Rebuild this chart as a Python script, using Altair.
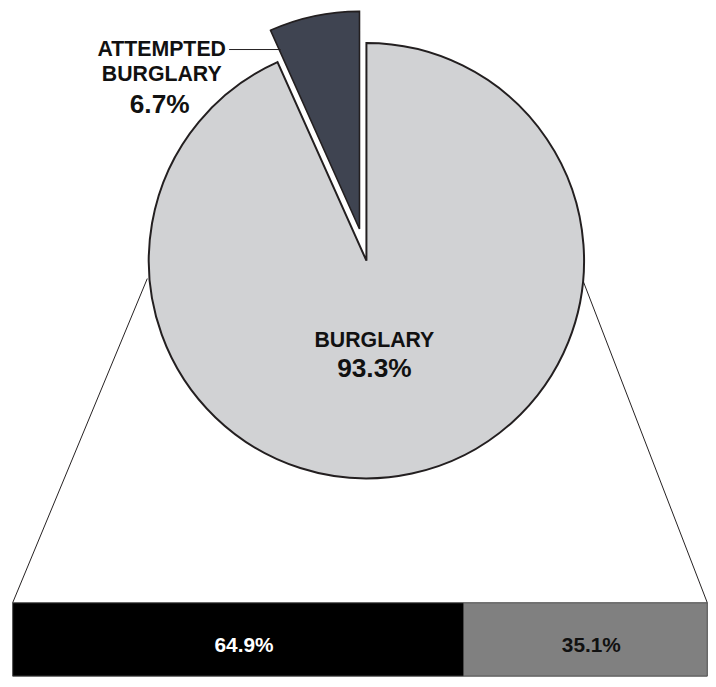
import altair as alt
import pandas as pd

# ---- data ----
pie_categories = ["BURGLARY", "ATTEMPTED BURGLARY"]
pie_shares = [93.3, 6.7]
pie_colors = ["#d1d2d4", "#3f4451"]

bar_segments = ["Segment A", "Segment B"]
bar_shares = [64.9, 35.1]
bar_colors = ["#000000", "#808080"]
bar_text_colors = ["#ffffff", "#111111"]

FONT = "Liberation Sans"

pie_df = pd.DataFrame({"category": pie_categories, "share": pie_shares,
                       "order": list(range(len(pie_categories)))})
bar_df = pd.DataFrame({"segment": bar_segments, "share": bar_shares,
                       "order": list(range(len(bar_segments)))})

# ---- layout (plot-area pixels) ----
CX, CY, R = 361.5, 252, 219.5
EXPLODE_DX, EXPLODE_DY = -7, -32
BAR_TOP, BAR_BOTTOM = 597, 671
BAR_LEFT, BAR_RIGHT = 4.7, 705.3

pie_base = alt.Chart(pie_df).encode(
    theta=alt.Theta("share:Q", stack=True),
    order=alt.Order("order:Q"),
    color=alt.Color("category:N", scale=alt.Scale(domain=pie_categories, range=pie_colors), legend=None),
)

pie_main = pie_base.mark_arc(radius=R, stroke="#231f20", strokeWidth=2).encode(
    x=alt.value(CX), y=alt.value(CY),
    opacity=alt.condition("datum.order == 0", alt.value(1), alt.value(0)),
)
pie_explode = pie_base.mark_arc(radius=R, stroke="#231f20", strokeWidth=1.6).encode(
    x=alt.value(CX + EXPLODE_DX), y=alt.value(CY + EXPLODE_DY),
    opacity=alt.condition("datum.order == 1", alt.value(1), alt.value(0)),
)

main_name = alt.Chart(pie_df).transform_filter("datum.order == 0").mark_text(
    font=FONT, fontSize=21.5, fontWeight="bold", color="#111111", baseline="alphabetic", align="center"
).encode(x=alt.value(369.5), y=alt.value(339), text="category:N")
main_pct = alt.Chart(pie_df).transform_filter("datum.order == 0").transform_calculate(
    label="format(datum.share, '.1f') + '%'"
).mark_text(
    font=FONT, fontSize=26.5, fontWeight="bold", color="#111111", baseline="alphabetic", align="center"
).encode(x=alt.value(369.5), y=alt.value(369), text="label:N")

att_name = alt.Chart(pie_df).transform_filter("datum.order == 1").mark_text(
    font=FONT, fontSize=21.5, fontWeight="bold", color="#111111", baseline="alphabetic", align="center",
    lineBreak=" ", lineHeight=25
).encode(x=alt.value(155), y=alt.value(46), text="category:N")
att_pct = alt.Chart(pie_df).transform_filter("datum.order == 1").transform_calculate(
    label="format(datum.share, '.1f') + '%'"
).mark_text(
    font=FONT, fontSize=26.5, fontWeight="bold", color="#111111", baseline="alphabetic", align="center"
).encode(x=alt.value(153), y=alt.value(103), text="label:N")

leader = alt.Chart(pie_df).transform_filter("datum.order == 1").mark_rule(
    color="#231f20", strokeWidth=1
).encode(x=alt.value(223), x2=alt.value(275), y=alt.value(39))

conn_left = alt.Chart(pie_df).transform_filter("datum.order == 0").mark_rule(
    color="#231f20", strokeWidth=1
).encode(x=alt.value(140.5), y=alt.value(270), x2=alt.value(BAR_LEFT), y2=alt.value(BAR_TOP))
conn_right = alt.Chart(pie_df).transform_filter("datum.order == 0").mark_rule(
    color="#231f20", strokeWidth=1
).encode(x=alt.value(579.5), y=alt.value(271), x2=alt.value(BAR_RIGHT), y2=alt.value(BAR_TOP))

xscale = alt.Scale(domain=[0, 100], range=[BAR_LEFT, BAR_RIGHT])

bar_base = alt.Chart(bar_df).transform_stack(
    stack="share", as_=["x0", "x1"], groupby=[], sort=[alt.SortField("order")]
)
bar = bar_base.mark_rect(stroke="#4a4a4a", strokeWidth=1).encode(
    x=alt.X("x0:Q", scale=xscale, axis=None),
    x2="x1:Q",
    y=alt.value(BAR_TOP), y2=alt.value(BAR_BOTTOM),
    color=alt.Color("segment:N", scale=alt.Scale(domain=bar_segments, range=bar_colors), legend=None),
)
bar_text = bar_base.transform_calculate(
    mid="(datum.x0 + datum.x1) / 2",
    label="format(datum.share, '.1f') + '%'",
).mark_text(font=FONT, fontSize=21, fontWeight="bold", baseline="alphabetic", align="center", dx=6).encode(
    x=alt.X("mid:Q", scale=xscale, axis=None),
    y=alt.value(647),
    text="label:N",
    fill=alt.Fill("segment:N", scale=alt.Scale(domain=bar_segments, range=bar_text_colors), legend=None),
)

chart = alt.layer(
    conn_left, conn_right, pie_main, pie_explode, leader,
    main_name, main_pct, att_name, att_pct, bar, bar_text
).resolve_scale(color="independent").properties(
    width=706, height=671, padding=0,
    autosize=alt.AutoSizeParams(type="none"),
    background="white",
).configure_view(stroke=None)

chart.save("out.html", embed_options={"renderer": "svg", "actions": False})
